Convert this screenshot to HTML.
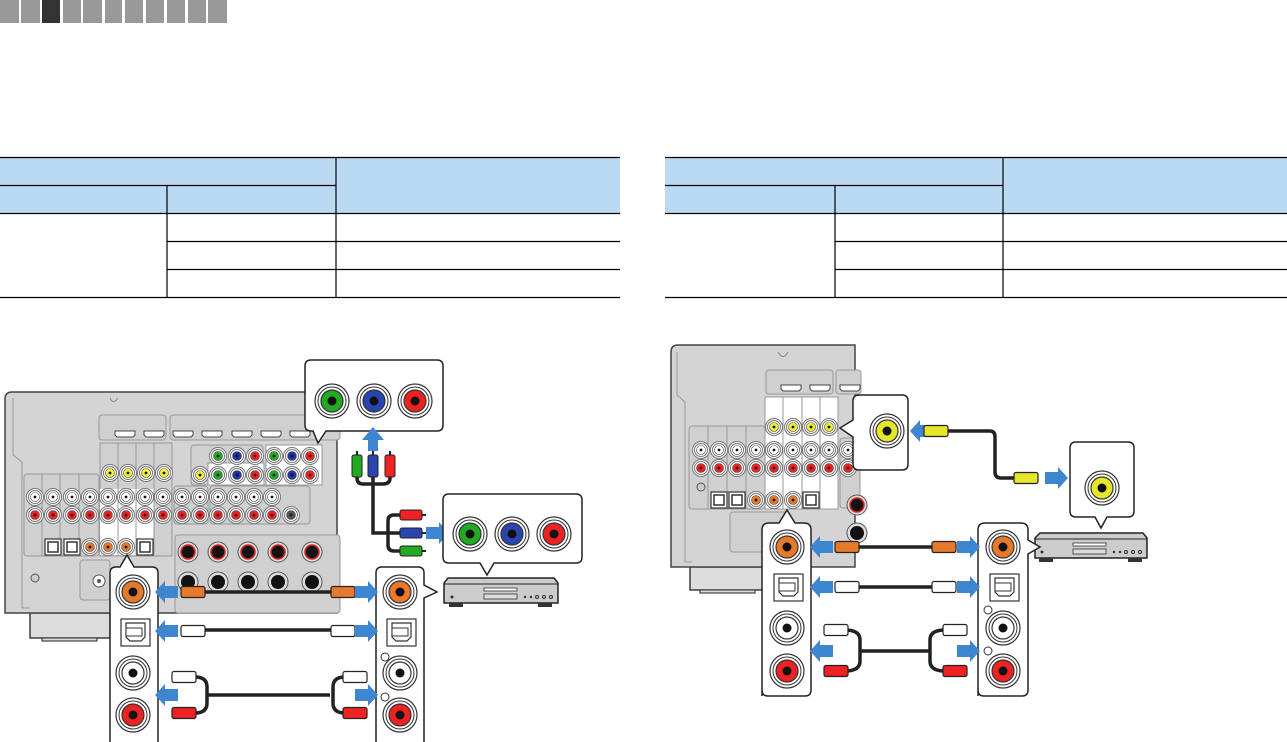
<!DOCTYPE html>
<html><head><meta charset="utf-8"><style>
html,body{margin:0;padding:0;background:#fff;width:1287px;height:742px;overflow:hidden}
svg{position:absolute;left:0;top:0}
</style></head><body>
<svg width="1287" height="742" viewBox="0 0 1287 742" xmlns="http://www.w3.org/2000/svg">
<defs>
<g id="j"><circle r="8.5" fill="#fff" stroke="#777" stroke-width="1"/><circle r="6.5" fill="none" stroke="#777" stroke-width="1"/><circle r="4.5" stroke="#444" stroke-width="0.6"/><circle r="1.4" fill="#111"/></g>
<g id="J"><circle r="17" fill="#fff" stroke="#333" stroke-width="1.2"/><circle r="14" fill="none" stroke="#333" stroke-width="1"/><circle r="11" stroke="#333" stroke-width="1.2"/><circle r="4.5" fill="#111"/></g>
<g id="opt"><rect x="-8" y="-8" width="16" height="16" fill="#fff" stroke="#333" stroke-width="1.2"/><rect x="-5" y="-5" width="10" height="10" fill="#fff" stroke="#333" stroke-width="1.5"/></g>
<g id="OPT"><rect x="-14" y="-13" width="29" height="27" fill="#fff" stroke="#333" stroke-width="1.2"/><path d="M-9 -9 H10 V5 L6 9 H-5 L-9 5 Z" fill="#fff" stroke="#333" stroke-width="1.2"/><rect x="-9" y="-4" width="16" height="8" fill="#fff" stroke="#333" stroke-width="1"/></g>
<g id="hd"><path d="M-10 -3 H10 V1 L8 3 H-8 L-10 1 Z" fill="#fff" stroke="#444" stroke-width="1"/></g>
<g id="sp"><circle r="10" fill="#ddd" stroke="#555"/><circle r="7" fill="#111" stroke="#d22" stroke-width="1.5"/></g>
<g id="spb"><circle r="10" fill="#ddd" stroke="#555"/><circle r="7" fill="#111"/></g>
<path id="al" d="M0 0 L10 -11 V-6 H23 V6 H10 V11 Z" fill="#3f86d2"/>
<path id="ar" d="M0 0 L-10 -11 V-6 H-23 V6 H-10 V11 Z" fill="#3f86d2"/>
<g id="plug"><rect x="-12" y="-5.5" width="24" height="11" rx="2" stroke="#222" stroke-width="1.2"/></g>
</defs>

<g fill="#999">
<rect x="0" y="0" width="19" height="23"/><rect x="21" y="0" width="19" height="23"/><rect x="42" y="0" width="18" height="23" fill="#333"/><rect x="63" y="0" width="18" height="23"/><rect x="83" y="0" width="19" height="23"/><rect x="105" y="0" width="17" height="23"/><rect x="125" y="0" width="18" height="23"/><rect x="146" y="0" width="18" height="23"/><rect x="167" y="0" width="18" height="23"/><rect x="188" y="0" width="18" height="23"/><rect x="208" y="0" width="19" height="23"/>
</g>

<g>
<rect x="0" y="157" width="620" height="56" fill="#bad9f2"/>
<rect x="665" y="157" width="622" height="56" fill="#bad9f2"/>
<g stroke="#000" stroke-width="1.2" fill="none">
<path d="M0 157.5H620 M0 185.5H336 M0 213.5H620 M167 241.5H620 M167 269.5H620 M0 297.5H620 M336 157V297 M167 185V297"/>
<path d="M665 157.5H1287 M665 185.5H1003 M665 213.5H1287 M835 241.5H1287 M835 269.5H1287 M665 297.5H1287 M1003 157V297 M835 185V297"/>
</g>
</g>

<!-- LEFT RECEIVER -->
<g>
<rect x="30" y="613" width="80" height="25" fill="#ddd" stroke="#222" stroke-width="1.3"/>
<rect x="42" y="638" width="55" height="3" fill="#ddd" stroke="#222"/>
<path d="M337 392 H12 Q5 392 5 399 V613 H337 Z" fill="#d4d4d4" stroke="#444" stroke-width="1.5"/>
<path d="M13 398 V455 L22 462 V608 H30" fill="none" stroke="#999"/>
<path d="M110 398 Q113 405 118 398" fill="none" stroke="#888"/>
<rect x="99" y="415" width="67" height="25" rx="3" fill="#d0d0d0" stroke="#999"/>
<rect x="170" y="415" width="170" height="25" rx="3" fill="#d0d0d0" stroke="#999"/>
<g><use href="#hd" x="125" y="434"/><use href="#hd" x="154" y="434"/><use href="#hd" x="183" y="434"/><use href="#hd" x="212" y="434"/><use href="#hd" x="242" y="434"/><use href="#hd" x="271" y="434"/><use href="#hd" x="300" y="434"/></g>
<rect x="24" y="474" width="75" height="82" rx="3" fill="#d0d0d0" stroke="#999"/>
<rect x="100" y="443" width="72" height="113" fill="#d0d0d0" stroke="#999"/>
<rect x="100" y="489" width="54" height="66" fill="#fff"/>
<path d="M118 443V556 M136 443V556 M154 443V556 M42 474V556 M60 474V556 M79 474V556" stroke="#999"/>
<rect x="191" y="445" width="72" height="40" rx="3" fill="#d0d0d0" stroke="#999"/>
<rect x="208" y="463" width="56" height="22" fill="#fff" stroke="#999"/>
<rect x="266" y="445" width="56" height="40" fill="#fff" stroke="#999"/>
<rect x="174" y="486" width="34" height="38" rx="3" fill="#d0d0d0" stroke="#999"/>
<rect x="210" y="486" width="100" height="38" rx="3" fill="#d0d0d0" stroke="#999"/>
<rect x="175" y="535" width="165" height="78" rx="3" fill="#d0d0d0" stroke="#999"/>
<rect x="80" y="560" width="30" height="40" rx="3" fill="#d0d0d0" stroke="#999"/>
<circle cx="99" cy="581" r="6" fill="#fff" stroke="#555"/><circle cx="99" cy="581" r="2" fill="#555"/>
<g fill="#ee3"><use href="#j" x="110" y="473"/><use href="#j" x="128" y="473"/><use href="#j" x="146" y="473"/><use href="#j" x="164" y="473"/><use href="#j" x="200" y="475"/></g>
<g fill="#fff"><use href="#j" x="35" y="497"/><use href="#j" x="53" y="497"/><use href="#j" x="72" y="497"/><use href="#j" x="90" y="497"/><use href="#j" x="108" y="497"/><use href="#j" x="126" y="497"/><use href="#j" x="145" y="497"/><use href="#j" x="163" y="497"/><use href="#j" x="182" y="497"/><use href="#j" x="200" y="497"/><use href="#j" x="218" y="497"/><use href="#j" x="236" y="497"/><use href="#j" x="254" y="497"/><use href="#j" x="272" y="497"/></g>
<g fill="#e22"><use href="#j" x="35" y="515"/><use href="#j" x="53" y="515"/><use href="#j" x="72" y="515"/><use href="#j" x="90" y="515"/><use href="#j" x="108" y="515"/><use href="#j" x="126" y="515"/><use href="#j" x="145" y="515"/><use href="#j" x="163" y="515"/><use href="#j" x="182" y="515"/><use href="#j" x="200" y="515"/><use href="#j" x="218" y="515"/><use href="#j" x="236" y="515"/><use href="#j" x="254" y="515"/><use href="#j" x="272" y="515"/></g>
<use href="#j" x="291" y="515" fill="#555"/>
<g fill="#e7792b"><use href="#j" x="90" y="547"/><use href="#j" x="108" y="547"/><use href="#j" x="126" y="547"/></g>
<use href="#opt" x="53" y="547"/><use href="#opt" x="72" y="547"/><use href="#opt" x="145" y="547"/>
<g fill="#2a2"><use href="#j" x="218" y="456"/><use href="#j" x="274" y="456"/><use href="#j" x="218" y="475"/><use href="#j" x="274" y="475"/></g>
<g fill="#23a"><use href="#j" x="237" y="456"/><use href="#j" x="292" y="456"/><use href="#j" x="237" y="475"/><use href="#j" x="292" y="475"/></g>
<g fill="#e22"><use href="#j" x="255" y="456"/><use href="#j" x="310" y="456"/><use href="#j" x="255" y="475"/><use href="#j" x="310" y="475"/></g>
<circle cx="35" cy="578" r="4" fill="#ccc" stroke="#555"/>
<g><use href="#sp" x="188" y="552"/><use href="#sp" x="218" y="552"/><use href="#sp" x="248" y="552"/><use href="#sp" x="278" y="552"/><use href="#sp" x="312" y="552"/>
<use href="#spb" x="188" y="582"/><use href="#spb" x="218" y="582"/><use href="#spb" x="248" y="582"/><use href="#spb" x="278" y="582"/><use href="#spb" x="312" y="582"/></g>
</g>

<path d="M311 360 H437 Q443 360 443 366 V425 Q443 431 437 431 H326 L318 443 L313 431 H311 Q305 431 305 425 V366 Q305 360 311 360 Z" fill="#fff" stroke="#222" stroke-width="1.5"/>
<use href="#J" x="332" y="401" fill="#2a2"/><use href="#J" x="374" y="401" fill="#2845b0"/><use href="#J" x="415" y="401" fill="#e22"/>
<path d="M373 427 L384 440 H378 V451 H368 V440 H362 Z" fill="#3f86d2"/>
<path d="M357 472 V478 Q357 484 363 484 H383 Q390 484 390 478 V472 M373 472 V533 Q373 533 380 533 H400 M388 533 V521 Q388 515 394 515 H400 M388 533 V545 Q388 551 394 551 H400" fill="none" stroke="#222" stroke-width="3.5"/>
<rect x="352" y="455" width="10" height="22" rx="2" fill="#2a2" stroke="#222"/>
<rect x="368" y="455" width="10" height="22" rx="2" fill="#2845b0" stroke="#222"/>
<rect x="385" y="455" width="10" height="22" rx="2" fill="#e22" stroke="#222"/>
<path d="M357 451V455 M373 451V455 M390 451V455" stroke="#222" stroke-width="2"/>
<rect x="400" y="510" width="22" height="10" rx="2" fill="#e22" stroke="#222"/>
<rect x="400" y="528" width="22" height="10" rx="2" fill="#2845b0" stroke="#222"/>
<rect x="400" y="546" width="22" height="10" rx="2" fill="#2a2" stroke="#222"/>
<path d="M422 515H426 M422 533H426 M422 551H426" stroke="#222" stroke-width="2"/>
<use href="#ar" x="449" y="533"/>
<path d="M449 494 H576 Q582 494 582 500 V557 Q582 563 576 563 H494 L487 575 L480 563 H449 Q443 563 443 557 V500 Q443 494 449 494 Z" fill="#fff" stroke="#222" stroke-width="1.5"/>
<use href="#J" x="470" y="534" fill="#2a2"/><use href="#J" x="512" y="534" fill="#2845b0"/><use href="#J" x="554" y="534" fill="#e22"/>
<g>
<path d="M448 578 H554 L558 583 V603 H444 V583 Z" fill="#ccc" stroke="#222" stroke-width="1.5"/>
<path d="M444 584 H558" stroke="#222"/>
<rect x="484" y="588" width="33" height="3" fill="#fff" stroke="#333" stroke-width="0.8"/>
<rect x="484" y="594" width="33" height="5" fill="#ddd" stroke="#333" stroke-width="0.8"/>
<circle cx="452" cy="597" r="1.5" fill="#333"/><circle cx="525" cy="597" r="1.2" fill="#333"/><circle cx="531" cy="597" r="1.2" fill="#333"/><circle cx="537" cy="597" r="1.5" fill="none" stroke="#333"/><circle cx="544" cy="597" r="1.5" fill="none" stroke="#333"/><circle cx="551" cy="597" r="1.5" fill="none" stroke="#333"/>
<rect x="449" y="603" width="14" height="4" fill="#333"/><rect x="538" y="603" width="14" height="4" fill="#333"/>
</g>
<path d="M110 742 V573 Q110 567 116 567 H120 L127 555 L134 567 H152 Q158 567 158 573 V742" fill="#fff" stroke="#222" stroke-width="1.5"/>
<use href="#J" x="133" y="592" fill="#e7792b"/>
<use href="#OPT" x="135" y="632"/>
<use href="#J" x="133" y="673" fill="#fff"/>
<use href="#J" x="133" y="715" fill="#e22"/>
<path d="M376 742 V573 Q376 567 382 567 H418 Q424 567 424 573 V585 L437 592 L424 598 V742" fill="#fff" stroke="#222" stroke-width="1.5"/>
<use href="#J" x="400" y="592" fill="#e7792b"/>
<use href="#OPT" x="401" y="632"/>
<use href="#J" x="400" y="673" fill="#fff"/>
<use href="#J" x="400" y="715" fill="#e22"/>
<circle cx="385" cy="657" r="4" fill="#fff" stroke="#333"/><circle cx="385" cy="697" r="4" fill="#fff" stroke="#333"/>
<path d="M195 592H340 M195 630H340 M195 677 Q207 677 207 687 V703 Q207 713 195 713 M207 695H330 M345 677 Q333 677 333 687 V703 Q333 713 345 713" fill="none" stroke="#222" stroke-width="3.5"/>
<g fill="#e7792b"><use href="#plug" x="193" y="592"/><use href="#plug" x="343" y="592"/></g>
<g fill="#fff"><use href="#plug" x="193" y="631"/><use href="#plug" x="343" y="631"/><use href="#plug" x="184" y="677"/><use href="#plug" x="355" y="677"/></g>
<g fill="#e22"><use href="#plug" x="184" y="713"/><use href="#plug" x="355" y="713"/></g>
<use href="#al" x="155" y="592"/><use href="#al" x="155" y="631"/><use href="#al" x="155" y="695"/>
<use href="#ar" x="378" y="592"/><use href="#ar" x="378" y="631"/><use href="#ar" x="378" y="695"/>

<!-- RIGHT RECEIVER -->
<g>
<rect x="690" y="567" width="75" height="23" fill="#ddd" stroke="#222" stroke-width="1.3"/>
<rect x="700" y="590" width="55" height="3" fill="#ddd" stroke="#222"/>
<path d="M855 345 H678 Q671 345 671 352 V567 H855 Z" fill="#d4d4d4" stroke="#444" stroke-width="1.5"/>
<path d="M677 352 V395 L685 402 V562 H692" fill="none" stroke="#999"/>
<path d="M778 352 Q783 361 788 352" fill="none" stroke="#888"/>
<rect x="766" y="370" width="67" height="24" rx="3" fill="#d0d0d0" stroke="#999"/>
<rect x="836" y="370" width="25" height="24" rx="3" fill="#d0d0d0" stroke="#999"/>
<use href="#hd" x="791" y="388"/><use href="#hd" x="820" y="388"/><use href="#hd" x="850" y="388"/>
<rect x="689" y="426" width="76" height="83" rx="3" fill="#d0d0d0" stroke="#999"/>
<rect x="765" y="397" width="73" height="112" fill="#fff" stroke="#999"/>
<path d="M783 397V509 M802 397V509 M820 397V509 M708 426V509 M727 426V509 M746 426V509" stroke="#999"/>
<rect x="730" y="512" width="60" height="40" rx="3" fill="#d0d0d0" stroke="#999"/>
<rect x="840" y="438" width="20" height="70" rx="3" fill="#d0d0d0" stroke="#999"/>
<g fill="#ee3"><use href="#j" x="774" y="427"/><use href="#j" x="793" y="427"/><use href="#j" x="811" y="427"/><use href="#j" x="829" y="427"/></g>
<g fill="#fff"><use href="#j" x="701" y="450"/><use href="#j" x="719" y="450"/><use href="#j" x="737" y="450"/><use href="#j" x="756" y="450"/><use href="#j" x="774" y="450"/><use href="#j" x="793" y="450"/><use href="#j" x="811" y="450"/><use href="#j" x="829" y="450"/><use href="#j" x="848" y="450"/></g>
<g fill="#e22"><use href="#j" x="701" y="468"/><use href="#j" x="719" y="468"/><use href="#j" x="737" y="468"/><use href="#j" x="756" y="468"/><use href="#j" x="774" y="468"/><use href="#j" x="793" y="468"/><use href="#j" x="811" y="468"/><use href="#j" x="829" y="468"/><use href="#j" x="848" y="468"/></g>
<g fill="#e7792b"><use href="#j" x="756" y="500"/><use href="#j" x="774" y="500"/><use href="#j" x="793" y="500"/></g>
<use href="#opt" x="719" y="500"/><use href="#opt" x="737" y="500"/><use href="#opt" x="811" y="500"/>
<circle cx="701" cy="487" r="4" fill="#ccc" stroke="#555"/>
<use href="#sp" x="857" y="505"/><use href="#spb" x="857" y="533"/>
</g>
<path d="M859 395 H902 Q908 395 908 401 V464 Q908 470 902 470 H859 Q853 470 853 464 V437 L840 428 L853 420 V401 Q853 395 859 395 Z" fill="#fff" stroke="#222" stroke-width="1.5"/>
<use href="#J" x="887" y="431" fill="#e6e62a"/>
<use href="#al" x="910" y="431"/>
<path d="M945 431 H990 Q995 431 995 437 V472 Q995 478 1001 478 H1025" fill="none" stroke="#222" stroke-width="3.5"/>
<use href="#plug" x="936" y="431" fill="#e6e62a"/>
<use href="#plug" x="1026" y="478" fill="#e6e62a"/>
<use href="#ar" x="1068" y="478"/>
<path d="M1076 442 H1128 Q1134 442 1134 448 V511 Q1134 517 1128 517 H1107 L1101 528 L1095 517 H1076 Q1070 517 1070 511 V448 Q1070 442 1076 442 Z" fill="#fff" stroke="#222" stroke-width="1.5"/>
<use href="#J" x="1102" y="488" fill="#e6e62a"/>
<g>
<path d="M1040 533 H1143 L1147 538 V558 H1035 V538 Z" fill="#ccc" stroke="#222" stroke-width="1.5"/>
<path d="M1035 539 H1147" stroke="#222"/>
<rect x="1073" y="543" width="33" height="3" fill="#fff" stroke="#333" stroke-width="0.8"/>
<rect x="1073" y="549" width="33" height="5" fill="#ddd" stroke="#333" stroke-width="0.8"/>
<circle cx="1042" cy="552" r="1.5" fill="#333"/><circle cx="1114" cy="552" r="1.2" fill="#333"/><circle cx="1120" cy="552" r="1.2" fill="#333"/><circle cx="1126" cy="552" r="1.5" fill="none" stroke="#333"/><circle cx="1133" cy="552" r="1.5" fill="none" stroke="#333"/><circle cx="1140" cy="552" r="1.5" fill="none" stroke="#333"/>
<rect x="1039" y="558" width="14" height="4" fill="#333"/><rect x="1128" y="558" width="14" height="4" fill="#333"/>
</g>
<path d="M762 696 V530 Q762 523 769 523 H779 L787 510 L795 523 H804 Q811 523 811 530 V690 Q811 696 805 696 H768 Q762 696 762 690 Z" fill="#fff" stroke="#222" stroke-width="1.5"/>
<use href="#J" x="787" y="547" fill="#e7792b"/>
<use href="#OPT" x="788" y="587"/>
<use href="#J" x="787" y="628" fill="#fff"/>
<use href="#J" x="787" y="671" fill="#e22"/>
<path d="M978 696 V530 Q978 523 985 523 H1021 Q1028 523 1028 530 V540 L1040 547 L1028 554 V690 Q1028 696 1022 696 H984 Q978 696 978 690 Z" fill="#fff" stroke="#222" stroke-width="1.5"/>
<use href="#J" x="1003" y="547" fill="#e7792b"/>
<use href="#OPT" x="1004" y="587"/>
<use href="#J" x="1003" y="628" fill="#fff"/>
<use href="#J" x="1003" y="671" fill="#e22"/>
<circle cx="988" cy="610" r="4" fill="#fff" stroke="#333"/><circle cx="988" cy="651" r="4" fill="#fff" stroke="#333"/>
<path d="M850 547H940 M850 587H940 M845 630 Q860 630 860 640 V661 Q860 671 845 671 M860 651H930 M945 630 Q930 630 930 640 V661 Q930 671 945 671" fill="none" stroke="#222" stroke-width="3.5"/>
<g fill="#e7792b"><use href="#plug" x="847" y="547"/><use href="#plug" x="944" y="547"/></g>
<g fill="#fff"><use href="#plug" x="847" y="587"/><use href="#plug" x="944" y="587"/><use href="#plug" x="836" y="630"/><use href="#plug" x="955" y="630"/></g>
<g fill="#e22"><use href="#plug" x="836" y="671"/><use href="#plug" x="955" y="671"/></g>
<use href="#al" x="810" y="547"/><use href="#al" x="810" y="587"/><use href="#al" x="810" y="651"/>
<use href="#ar" x="980" y="547"/><use href="#ar" x="980" y="587"/><use href="#ar" x="980" y="651"/>
</svg>
</body></html>
